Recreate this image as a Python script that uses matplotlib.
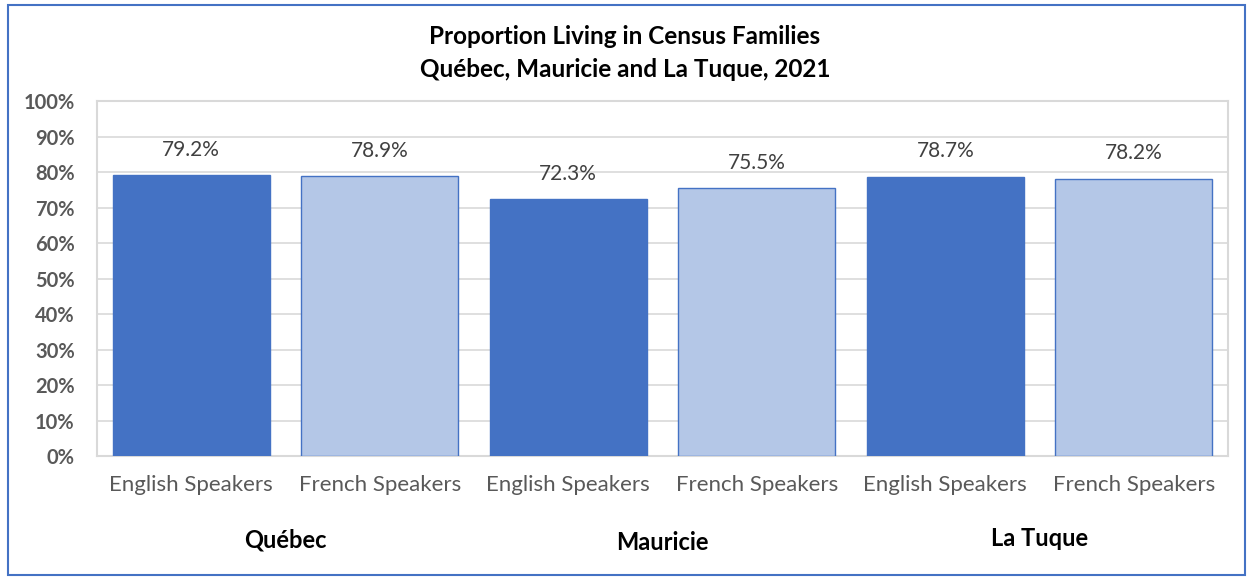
import matplotlib.pyplot as plt
import matplotlib.ticker as ticker
from matplotlib.patches import Rectangle

regions = ["Québec", "Mauricie", "La Tuque"]
speakers = ["English Speakers", "French Speakers"]
values = [79.2, 78.9, 72.3, 75.5, 78.7, 78.2]

DARK = "#4472C4"
LIGHT = "#B4C7E7"
TICK_COLOR = "#595959"
FONT = ["Lato", "DejaVu Sans"]

plt.rcParams["font.family"] = FONT

fig = plt.figure(figsize=(12.5, 5.78), dpi=100)
ax = fig.add_axes([0.0776, 0.211, 0.9048, 0.614])

n = len(values)
xs = list(range(n))
labels = [speakers[i % 2] for i in range(n)]
colors = [DARK if i % 2 == 0 else LIGHT for i in range(n)]

ax.bar(xs, values, width=0.835, color=colors, edgecolor=DARK,
       linewidth=1.0, zorder=3)
for x, v in zip(xs, values):
    ax.annotate(f"{v:.1f}%", xy=(x, v), xytext=(0, 11), textcoords="offset points",
                ha="center", va="bottom", fontsize=15, color="#404040")

ax.set_xlim(-0.5, n - 0.5)
ax.set_ylim(0, 100)
ax.set_yticks(range(0, 101, 10))
ax.yaxis.set_major_formatter(ticker.FuncFormatter(lambda y, _: f"{y:.0f}%"))
ax.set_xticks(xs)
ax.set_xticklabels(labels)
ax.tick_params(axis="both", length=0, labelcolor=TICK_COLOR)
ax.tick_params(axis="y", pad=16, labelsize=14.5)
ax.tick_params(axis="x", pad=14, labelsize=16)
for lab in ax.get_yticklabels():
    lab.set_fontweight("bold")

ax.grid(axis="y", color="#d9d9d9", linewidth=1.2, zorder=0)
for s in ax.spines.values():
    s.set_color("#d9d9d9")
    s.set_linewidth(1.5)

# region labels beneath each pair of bars
region_y = [0.066, 0.062, 0.069]
for k, (name, yy) in enumerate(zip(regions, region_y)):
    xc = 2 * k + 0.5
    xf = fig.transFigure.inverted().transform(ax.transData.transform((xc, 0)))[0]
    fig.text(xf, yy, name, ha="center", va="center", fontsize=17,
             fontweight="bold", color="black")

fig.text(0.5, 0.936, "Proportion Living in Census Families", ha="center",
         va="center", fontsize=17.5, fontweight="bold")
fig.text(0.5, 0.879, "Québec, Mauricie and La Tuque, 2021", ha="center",
         va="center", fontsize=17.5, fontweight="bold")

fig.patches.append(Rectangle((0.006, 0.006), 0.99, 0.986, transform=fig.transFigure,
                             fill=False, edgecolor=DARK, linewidth=1.5))

fig.savefig("out.png", dpi=100)
